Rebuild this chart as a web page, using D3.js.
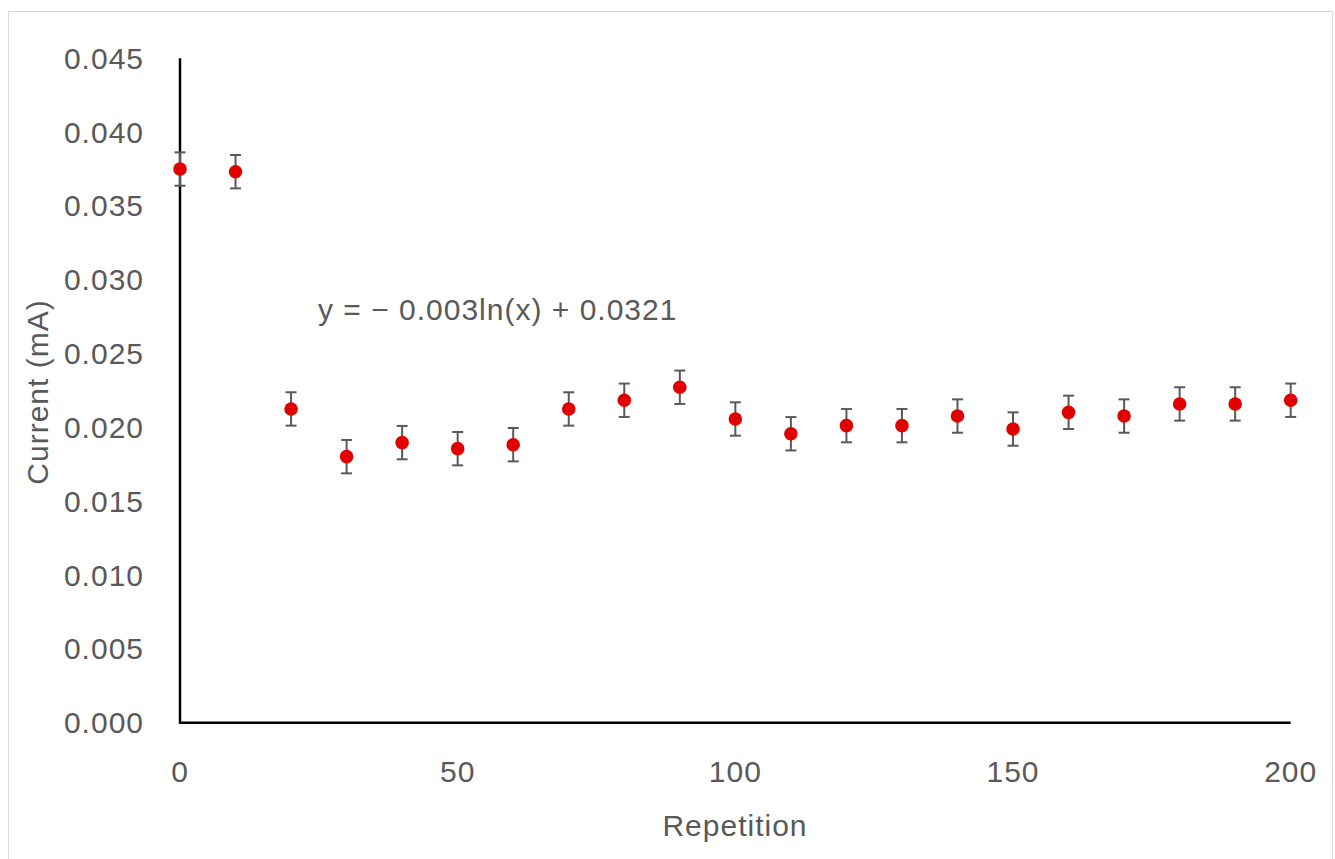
<!DOCTYPE html>
<html>
<head>
<meta charset="utf-8">
<script src="https://cdn.jsdelivr.net/npm/d3@7"></script>
<style>
  body { margin: 0; background: #fff; }
  text { font-family: "Liberation Sans", Arial, sans-serif; fill: #595959; font-size: 30px; letter-spacing: 1px; }
</style>
</head>
<body>
<div id="chart"></div>
<script>
// repetitions and mean current (mA), with error bar half-widths
const repetitions = [0, 10, 20, 30, 40, 50, 60, 70, 80, 90, 100, 110, 120, 130, 140, 150, 160, 170, 180, 190, 200]
const current = [0.0375, 0.03732, 0.02125, 0.01802, 0.01897, 0.01856, 0.01883, 0.02125, 0.02184, 0.02272, 0.02057,
  0.01957, 0.02012, 0.02012, 0.02077, 0.01989, 0.02102, 0.02077, 0.02159, 0.02159, 0.02184]
const errors = [0.00113, 0.00113, 0.00113, 0.00113, 0.00113, 0.00113, 0.00113, 0.00113, 0.00113, 0.00113, 0.00113,
  0.00113, 0.00113, 0.00113, 0.00113, 0.00113, 0.00113, 0.00113, 0.00113, 0.00113, 0.00113]
const xTicks = [0, 50, 100, 150, 200]
const yTicks = [0, 0.005, 0.01, 0.015, 0.02, 0.025, 0.03, 0.035, 0.04, 0.045]
const equation = "y = \u2212 0.003ln(x) + 0.0321"

const W = 1335, H = 859
const svg = d3.select("#chart").append("svg").attr("width", W).attr("height", H)

// chart frame
svg.append("rect")
  .attr("x", 8.5).attr("y", 11.5).attr("width", 1324).attr("height", 860)
  .attr("fill", "#fff").attr("stroke", "#d9d9d9").attr("stroke-width", 1)

const x = d3.scaleLinear().domain([0, 200]).range([180, 1290.7])
const y = d3.scaleLinear().domain([0, 0.045]).range([722.7, 58.3])

// axes lines
svg.append("line")
  .attr("x1", x(0)).attr("x2", x(0)).attr("y1", y(0.045)).attr("y2", y(0) + 1)
  .attr("stroke", "#000").attr("stroke-width", 2.5)
svg.append("line")
  .attr("x1", x(0) - 1).attr("x2", x(200)).attr("y1", y(0)).attr("y2", y(0))
  .attr("stroke", "#000").attr("stroke-width", 2.5)

// tick labels
svg.append("g").selectAll("text").data(yTicks).enter().append("text")
  .attr("x", 144).attr("y", (d) => y(d))
  .attr("text-anchor", "end").attr("dominant-baseline", "central")
  .text((d) => d3.format(".3f")(d))

svg.append("g").selectAll("text").data(xTicks).enter().append("text")
  .attr("x", (d) => x(d)).attr("y", 771)
  .attr("text-anchor", "middle").attr("dominant-baseline", "central")
  .text((d) => d)

// axis titles
svg.append("text")
  .attr("transform", "translate(37, 392) rotate(-90)")
  .attr("text-anchor", "middle").attr("dominant-baseline", "central")
  .text("Current (mA)")

svg.append("text")
  .attr("x", 735).attr("y", 825)
  .attr("text-anchor", "middle").attr("dominant-baseline", "central")
  .text("Repetition")

// trendline equation
svg.append("text")
  .attr("x", 318).attr("y", 309)
  .attr("dominant-baseline", "central")
  .text(equation)

const pts = repetitions.map((r, i) => ({ r, v: current[i], e: errors[i] }))

// error bars
const bars = svg.append("g").attr("stroke", "#595959").attr("stroke-width", 2)
bars.selectAll("line.v").data(pts).enter().append("line")
  .attr("x1", (d) => x(d.r)).attr("x2", (d) => x(d.r))
  .attr("y1", (d) => y(d.v + d.e)).attr("y2", (d) => y(d.v - d.e))
bars.selectAll("line.t").data(pts).enter().append("line")
  .attr("x1", (d) => x(d.r) - 5.5).attr("x2", (d) => x(d.r) + 5.5)
  .attr("y1", (d) => y(d.v + d.e)).attr("y2", (d) => y(d.v + d.e))
bars.selectAll("line.b").data(pts).enter().append("line")
  .attr("x1", (d) => x(d.r) - 5.5).attr("x2", (d) => x(d.r) + 5.5)
  .attr("y1", (d) => y(d.v - d.e)).attr("y2", (d) => y(d.v - d.e))

// markers
svg.append("g").selectAll("circle").data(pts).enter().append("circle")
  .attr("cx", (d) => x(d.r)).attr("cy", (d) => y(d.v))
  .attr("r", 6.8)
  .attr("fill", "#e00000")
</script>
</body>
</html>
